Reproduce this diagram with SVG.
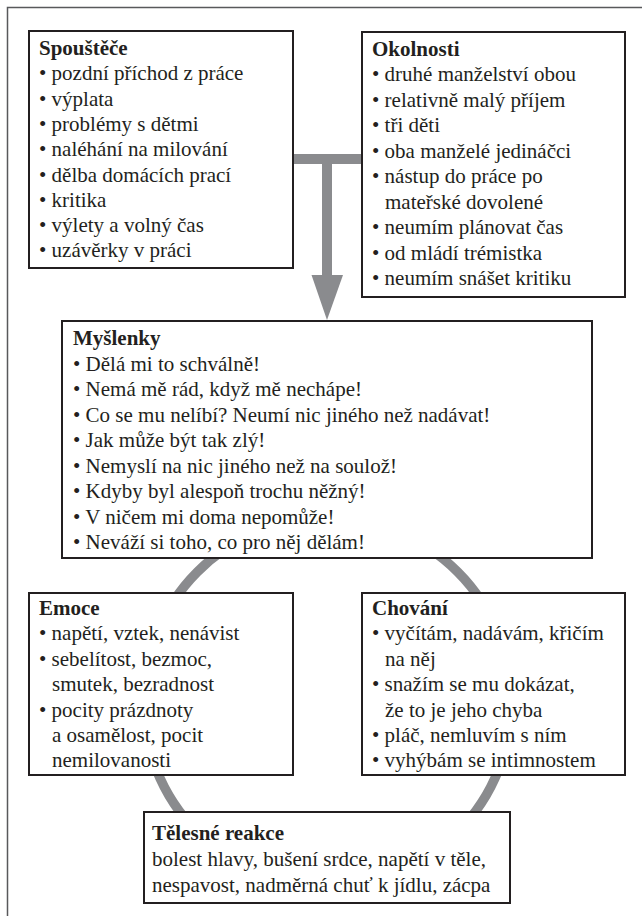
<svg xmlns="http://www.w3.org/2000/svg" width="642" height="916" viewBox="0 0 642 916">
<style>
.box{fill:#fff;stroke:#231f20;stroke-width:2}
.t{font-family:"Liberation Serif","Times New Roman",serif;font-size:21px;fill:#231f20}
.h{font-weight:bold}
.gray{fill:#8a8b8e}
</style>
<rect width="642" height="916" fill="#fff"/>
<path d="M7.5 916 V7.5 H642" fill="none" stroke="#58595b" stroke-width="1.5"/>
<g id="connectors">
<circle cx="327.5" cy="702" r="184" fill="none" stroke="#8a8b8e" stroke-width="9.5"/>
<rect class="gray" x="293" y="154" width="69" height="10"/>
<rect class="gray" x="322" y="154" width="10" height="122"/>
<polygon class="gray" points="311.5,275 343,275 327,320"/>
</g>
<g id="spoustece">
<rect class="box" x="29" y="31" width="264" height="237"/>
<text class="t" x="39"><tspan class="h" y="55">Spouštěče</tspan><tspan x="39" y="80.3">• pozdní příchod z práce</tspan><tspan x="39" y="105.6">• výplata</tspan><tspan x="39" y="130.9">• problémy s dětmi</tspan><tspan x="39" y="156.2">• naléhání na milování</tspan><tspan x="39" y="181.5">• dělba domácích prací</tspan><tspan x="39" y="206.8">• kritika</tspan><tspan x="39" y="232.1">• výlety a volný čas</tspan><tspan x="39" y="257.4">• uzávěrky v práci</tspan></text>
</g>
<g id="okolnosti">
<rect class="box" x="362" y="32" width="263" height="265"/>
<text class="t" x="372"><tspan class="h" y="56">Okolnosti</tspan><tspan x="372" y="81.4">• druhé manželství obou</tspan><tspan x="372" y="106.9">• relativně malý příjem</tspan><tspan x="372" y="132.3">• tři děti</tspan><tspan x="372" y="157.8">• oba manželé jedináčci</tspan><tspan x="372" y="183.2">• nástup do práce po</tspan><tspan x="385" y="208.7">mateřské dovolené</tspan><tspan x="372" y="234.1">• neumím plánovat čas</tspan><tspan x="372" y="259.6">• od mládí trémistka</tspan><tspan x="372" y="285">• neumím snášet kritiku</tspan></text>
</g>
<g id="myslenky">
<rect class="box" x="62" y="321" width="530" height="237"/>
<text class="t" x="73"><tspan class="h" y="345">Myšlenky</tspan><tspan x="73" y="370.5">• Dělá mi to schválně!</tspan><tspan x="73" y="396">• Nemá mě rád, když mě nechápe!</tspan><tspan x="73" y="421.5">• Co se mu nelíbí? Neumí nic jiného než nadávat!</tspan><tspan x="73" y="447">• Jak může být tak zlý!</tspan><tspan x="73" y="472.5">• Nemyslí na nic jiného než na soulož!</tspan><tspan x="73" y="498">• Kdyby byl alespoň trochu něžný!</tspan><tspan x="73" y="523.5">• V ničem mi doma nepomůže!</tspan><tspan x="73" y="549">• Neváží si toho, co pro něj dělám!</tspan></text>
</g>
<g id="emoce">
<rect class="box" x="29" y="593" width="264" height="182"/>
<text class="t" x="39"><tspan class="h" y="615">Emoce</tspan><tspan x="39" y="640.4">• napětí, vztek, nenávist</tspan><tspan x="39" y="665.8">• sebelítost, bezmoc,</tspan><tspan x="52" y="691.2">smutek, bezradnost</tspan><tspan x="39" y="716.6">• pocity prázdnoty</tspan><tspan x="52" y="742">a osamělost, pocit</tspan><tspan x="52" y="767.4">nemilovanosti</tspan></text>
</g>
<g id="chovani">
<rect class="box" x="362" y="593" width="263" height="182"/>
<text class="t" x="372"><tspan class="h" y="615">Chování</tspan><tspan x="372" y="640.4">• vyčítám, nadávám, křičím</tspan><tspan x="385" y="665.8">na něj</tspan><tspan x="372" y="691.2">• snažím se mu dokázat,</tspan><tspan x="385" y="716.6">že to je jeho chyba</tspan><tspan x="372" y="742">• pláč, nemluvím s ním</tspan><tspan x="372" y="767.4">• vyhýbám se intimnostem</tspan></text>
</g>
<g id="telesne">
<rect class="box" x="144" y="812" width="366" height="91"/>
<text class="t" x="152"><tspan class="h" y="840">Tělesné reakce</tspan><tspan x="152" y="865.5">bolest hlavy, bušení srdce, napětí v těle,</tspan><tspan x="152" y="891.5">nespavost, nadměrná chuť k jídlu, zácpa</tspan></text>
</g>
</svg>
